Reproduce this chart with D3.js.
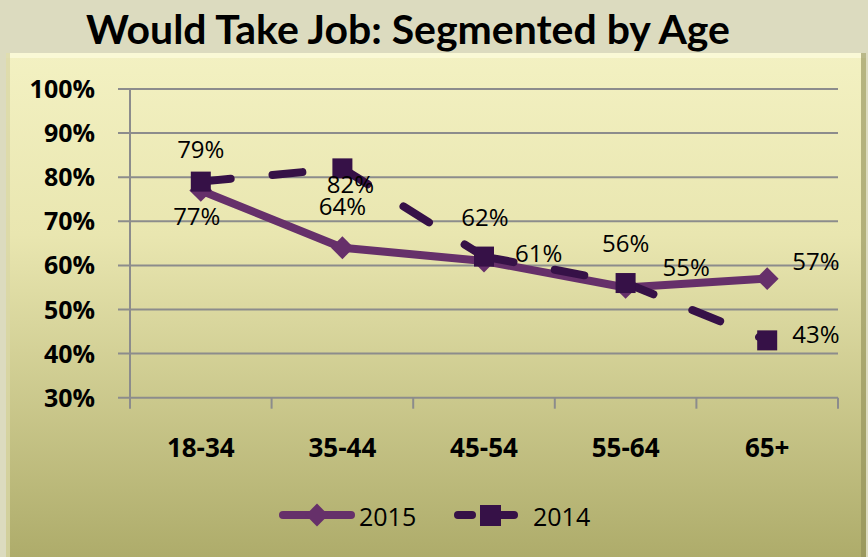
<!DOCTYPE html>
<html>
<head>
<meta charset="utf-8">
<script src="https://cdn.jsdelivr.net/npm/d3@7"></script>
<style>
  body { margin: 0; background: #dcdbbf; }
  svg { display: block; }
</style>
</head>
<body>
<div id="chart"></div>
<script>
// data
var ageGroups = ["18-34", "35-44", "45-54", "55-64", "65+"];
var values2015 = [77, 64, 61, 55, 57];
var values2014 = [79, 82, 62, 56, 43];
var yTicks = [30, 40, 50, 60, 70, 80, 90, 100];
var seriesNames = ["2015", "2014"];

// label placement per point: [dx, dy to baseline, anchor]
var labelPos2015 = [[-4, 35, "middle"], [0, -33, "middle"], [31, 1, "start"], [37, -11, "start"], [25, -9, "start"]];
var labelPos2014 = [[0, -24, "middle"], [8, 25, "middle"], [1, -31, "middle"], [0, -31, "middle"], [25, 3, "start"]];

var W = 868, H = 557;
var margin = { top: 89, right: 30, bottom: 159, left: 130 };
var width = 838 - margin.left,
    height = 397.7 - margin.top;

var svg = d3.select("#chart").append("svg")
    .attr("width", W).attr("height", H);

var defs = svg.append("defs");
var grad = defs.append("linearGradient").attr("id", "bg")
    .attr("x1", 0).attr("y1", 0).attr("x2", 0).attr("y2", 1);
grad.append("stop").attr("offset", "0%").attr("stop-color", "#f3f1c2");
grad.append("stop").attr("offset", "35%").attr("stop-color", "#e9e6b0");
grad.append("stop").attr("offset", "100%").attr("stop-color", "#aba967");

// outer box with bevel
svg.append("rect").attr("x", 6).attr("y", 53).attr("width", 860).attr("height", 520)
    .attr("fill", "url(#bg)");
svg.append("rect").attr("x", 6).attr("y", 53).attr("width", 860).attr("height", 5)
    .attr("fill", "#fbfad8").attr("opacity", 0.9);
svg.append("rect").attr("x", 6).attr("y", 53).attr("width", 4).attr("height", 520)
    .attr("fill", "#d9d7a6").attr("opacity", 0.8);
svg.append("rect").attr("x", 861).attr("y", 53).attr("width", 5).attr("height", 520)
    .attr("fill", "#8e8c55").attr("opacity", 0.6);

// title
svg.append("text")
    .attr("x", 86).attr("y", 44)
    .attr("font-family", "Lato, 'Open Sans', sans-serif")
    .attr("font-weight", "bold")
    .attr("font-size", 40)
    .attr("textLength", 644).attr("lengthAdjust", "spacingAndGlyphs")
    .attr("fill", "#000")
    .text("Would Take Job: Segmented by Age");

var g = svg.append("g").attr("transform", "translate(" + margin.left + "," + margin.top + ")");

var x = d3.scaleBand().domain(ageGroups).range([0, width]);
var y = d3.scaleLinear().domain([30, 100]).range([height, 0]);

// gridlines
g.selectAll(".grid").data(yTicks).enter().append("line")
    .attr("class", "grid")
    .attr("x1", -12).attr("x2", width)
    .attr("y1", function(d) { return y(d); })
    .attr("y2", function(d) { return y(d); })
    .attr("stroke", "#8c8c8c").attr("stroke-width", 2);

// y axis line
g.append("line").attr("x1", 0).attr("x2", 0).attr("y1", 0).attr("y2", height + 11)
    .attr("stroke", "#8c8c8c").attr("stroke-width", 2);

// x ticks at category boundaries
var bounds = ageGroups.map(function(d) { return x(d) + x.bandwidth(); });
g.selectAll(".xtick").data(bounds).enter().append("line")
    .attr("x1", function(d) { return d; }).attr("x2", function(d) { return d; })
    .attr("y1", height).attr("y2", height + 11)
    .attr("stroke", "#8c8c8c").attr("stroke-width", 2);

// y labels
g.selectAll(".ylab").data(yTicks).enter().append("text")
    .attr("x", -35)
    .attr("y", function(d) { return y(d) + 9; })
    .attr("text-anchor", "end")
    .attr("font-family", "'Open Sans', sans-serif")
    .attr("font-weight", "bold")
    .attr("font-size", 25)
    .text(function(d) { return d + "%"; });

// x labels
g.selectAll(".xlab").data(ageGroups).enter().append("text")
    .attr("x", function(d) { return x(d) + x.bandwidth() / 2; })
    .attr("y", height + 59)
    .attr("text-anchor", "middle")
    .attr("font-family", "'Open Sans', sans-serif")
    .attr("font-weight", "bold")
    .attr("font-size", 26)
    .text(function(d) { return d; });

var cx = function(d, i) { return x(ageGroups[i]) + x.bandwidth() / 2; };
var c2015 = "#66306a", c2014 = "#361147";

var line = d3.line()
    .x(function(d) { return d[0]; })
    .y(function(d) { return d[1]; });
var pts2015 = values2015.map(function(d, i) { return [cx(d, i), y(d)]; });
var pts2014 = values2014.map(function(d, i) { return [cx(d, i), y(d)]; });

// 2015 series
g.append("path").datum(pts2015)
    .attr("d", line).attr("fill", "none")
    .attr("stroke", c2015).attr("stroke-width", 8)
    .attr("stroke-linejoin", "round");
var diamond = d3.symbol().type(d3.symbolSquare).size(260);
g.selectAll(".m15").data(values2015).enter().append("path")
    .attr("d", diamond)
    .attr("transform", function(d, i) { return "translate(" + cx(d, i) + "," + y(d) + ") rotate(45)"; })
    .attr("fill", c2015);

// 2014 series, dash pattern restarts on every segment
var segs = d3.pairs(pts2014);
g.selectAll(".seg14").data(segs).enter().append("path")
    .attr("d", line).attr("fill", "none")
    .attr("stroke", c2014).attr("stroke-width", 8)
    .attr("stroke-linecap", "round")
    .attr("stroke-dasharray", "30,42");
g.selectAll(".m14").data(values2014).enter().append("rect")
    .attr("x", function(d, i) { return cx(d, i) - 10; })
    .attr("y", function(d) { return y(d) - 10; })
    .attr("width", 20).attr("height", 20)
    .attr("fill", c2014);

// data labels
function addLabels(vals, pos) {
  g.selectAll(null).data(vals).enter().append("text")
    .attr("x", function(d, i) { return cx(d, i) + pos[i][0]; })
    .attr("y", function(d, i) { return y(d) + pos[i][1]; })
    .attr("text-anchor", function(d, i) { return pos[i][2]; })
    .attr("font-family", "'Open Sans', sans-serif")
    .attr("font-size", 24)
    .attr("fill", "#000")
    .text(function(d) { return d + "%"; });
}
addLabels(values2015, labelPos2015);
addLabels(values2014, labelPos2014);

// legend
var leg = svg.append("g").attr("transform", "translate(0,515)");
leg.append("line").attr("x1", 283).attr("x2", 351).attr("y1", 0).attr("y2", 0)
    .attr("stroke", c2015).attr("stroke-width", 8).attr("stroke-linecap", "round");
leg.append("path").attr("d", diamond).attr("transform", "translate(317,0) rotate(45)")
    .attr("fill", c2015);
leg.append("text").attr("x", 359).attr("y", 11)
    .attr("font-family", "'Open Sans', sans-serif").attr("font-size", 25)
    .text(seriesNames[0]);
leg.append("line").attr("x1", 458).attr("x2", 472).attr("y1", 0).attr("y2", 0)
    .attr("stroke", c2014).attr("stroke-width", 8).attr("stroke-linecap", "round");
leg.append("line").attr("x1", 500).attr("x2", 514).attr("y1", 0).attr("y2", 0)
    .attr("stroke", c2014).attr("stroke-width", 8).attr("stroke-linecap", "round");
leg.append("rect").attr("x", 480).attr("y", -10).attr("width", 21).attr("height", 21)
    .attr("fill", c2014);
leg.append("text").attr("x", 533).attr("y", 11)
    .attr("font-family", "'Open Sans', sans-serif").attr("font-size", 25)
    .text(seriesNames[1]);
</script>
</body>
</html>
